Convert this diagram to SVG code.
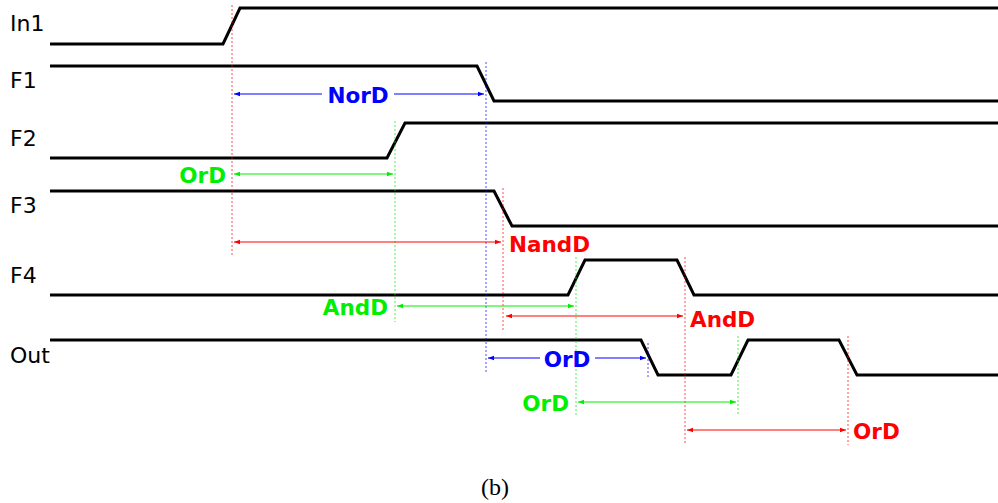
<svg xmlns="http://www.w3.org/2000/svg" width="998" height="503" viewBox="0 0 998 503">
  <style>
    .sig { fill: none; stroke: #000; stroke-width: 3; stroke-linejoin: miter; }
    .name { font-family: "DejaVu Sans", sans-serif; font-size: 22px; fill: #000; }
    .lbl { font-family: "DejaVu Sans", sans-serif; font-size: 21.5px; font-weight: bold; }
    .guide { fill: none; stroke-width: 1; stroke-dasharray: 2 2; opacity: 0.7; }
    .dim { fill: none; stroke-width: 1; }
    .r { stroke: #ff0000; } .g { stroke: #00ee00; } .b { stroke: #0000ff; }
    .tr { fill: #ff0000; } .tg { fill: #00ee00; } .tb { fill: #0000ff; }
    .cap { font-family: "Liberation Serif", serif; font-size: 24px; fill: #000; }
  </style>
  <defs>
    <marker id="ahR" viewBox="0 0 6 6" refX="6" refY="3" markerWidth="6" markerHeight="6" markerUnits="userSpaceOnUse" orient="auto-start-reverse"><path d="M0,0.8 L6,3 L0,5.2 z" fill="#ff0000"/></marker>
    <marker id="ahG" viewBox="0 0 6 6" refX="6" refY="3" markerWidth="6" markerHeight="6" markerUnits="userSpaceOnUse" orient="auto-start-reverse"><path d="M0,0.8 L6,3 L0,5.2 z" fill="#00ee00"/></marker>
    <marker id="ahB" viewBox="0 0 6 6" refX="6" refY="3" markerWidth="6" markerHeight="6" markerUnits="userSpaceOnUse" orient="auto-start-reverse"><path d="M0,0.8 L6,3 L0,5.2 z" fill="#0000ff"/></marker>
  </defs>

  <!-- signal waveforms -->
  <g id="In1">
    <text class="name" x="10" y="31">In1</text>
    <polyline class="sig" points="50,44 223,44 240,8 998,8"/>
  </g>
  <g id="F1">
    <text class="name" x="10" y="88">F1</text>
    <polyline class="sig" points="50,66 477,66 494,101 998,101"/>
  </g>
  <g id="F2">
    <text class="name" x="10" y="146">F2</text>
    <polyline class="sig" points="50,158 387,158 405,123 998,123"/>
  </g>
  <g id="F3">
    <text class="name" x="10" y="213">F3</text>
    <polyline class="sig" points="50,191 494,191 512,226 998,226"/>
  </g>
  <g id="F4">
    <text class="name" x="10" y="283">F4</text>
    <polyline class="sig" points="50,295 568,295 585,260 677,260 694,295 998,295"/>
  </g>
  <g id="Out">
    <text class="name" x="10" y="363">Out</text>
    <polyline class="sig" points="50,340 641,340 658,375 731,375 748,340 839,340 857,375 998,375"/>
  </g>

  <!-- timing guides and delay measurements -->
  <g id="connectors">
    <line class="guide r" x1="232" y1="5" x2="232" y2="256"/>
    <line class="guide b" x1="486" y1="62" x2="486" y2="372"/>
    <line class="guide g" x1="395" y1="121" x2="395" y2="322"/>
    <line class="guide r" x1="503" y1="188" x2="503" y2="332"/>
    <line class="guide g" x1="576" y1="257" x2="576" y2="415"/>
    <line class="guide r" x1="685" y1="257" x2="685" y2="445"/>
    <line class="guide b" x1="648" y1="343" x2="648" y2="378"/>
    <line class="guide g" x1="738" y1="336" x2="738" y2="415"/>
    <line class="guide r" x1="848" y1="336" x2="848" y2="445"/>

    <!-- NorD -->
    <line class="dim b" x1="322" y1="94" x2="234" y2="94" marker-end="url(#ahB)"/>
    <line class="dim b" x1="394" y1="94" x2="484" y2="94" marker-end="url(#ahB)"/>
    <text class="lbl tb" x="358" y="103" text-anchor="middle">NorD</text>

    <!-- OrD (F2) -->
    <line class="dim g" x1="234" y1="174" x2="393" y2="174" marker-start="url(#ahG)" marker-end="url(#ahG)"/>
    <text class="lbl tg" x="226" y="183" text-anchor="end">OrD</text>

    <!-- NandD -->
    <line class="dim r" x1="234" y1="242" x2="501" y2="242" marker-start="url(#ahR)" marker-end="url(#ahR)"/>
    <text class="lbl tr" x="509" y="252">NandD</text>

    <!-- AndD (F4 rise) -->
    <line class="dim g" x1="397" y1="306" x2="574" y2="306" marker-start="url(#ahG)" marker-end="url(#ahG)"/>
    <text class="lbl tg" x="388" y="315" text-anchor="end">AndD</text>

    <!-- AndD (F4 fall) -->
    <line class="dim r" x1="506" y1="316" x2="683" y2="316" marker-start="url(#ahR)" marker-end="url(#ahR)"/>
    <text class="lbl tr" x="690" y="327">AndD</text>

    <!-- OrD (Out fall) -->
    <line class="dim b" x1="540" y1="358" x2="488" y2="358" marker-end="url(#ahB)"/>
    <line class="dim b" x1="595" y1="358" x2="646" y2="358" marker-end="url(#ahB)"/>
    <text class="lbl tb" x="567" y="367" text-anchor="middle">OrD</text>

    <!-- OrD (Out rise) -->
    <line class="dim g" x1="578" y1="402" x2="736" y2="402" marker-start="url(#ahG)" marker-end="url(#ahG)"/>
    <text class="lbl tg" x="569" y="411" text-anchor="end">OrD</text>

    <!-- OrD (Out second fall) -->
    <line class="dim r" x1="687" y1="430" x2="846" y2="430" marker-start="url(#ahR)" marker-end="url(#ahR)"/>
    <text class="lbl tr" x="853" y="439">OrD</text>
  </g>

  <text class="cap" x="495" y="495" text-anchor="middle">(b)</text>
</svg>
